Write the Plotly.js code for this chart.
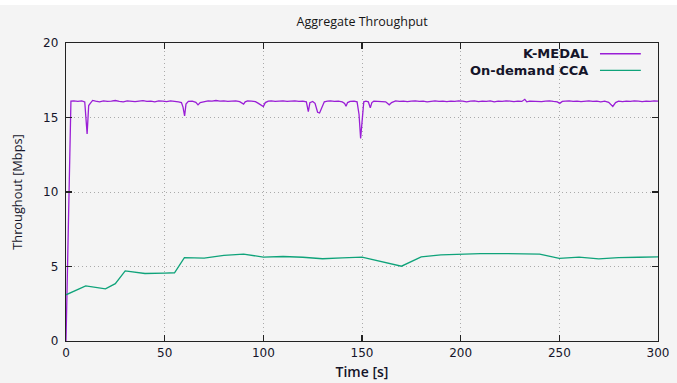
<!DOCTYPE html>
<html>
<head>
<meta charset="utf-8">
<script src="https://cdn.plot.ly/plotly-3.0.1.min.js"></script>
<style>
html,body{margin:0;padding:0;background:#ffffff;}
#chart{position:absolute;left:0;top:5px;width:677px;height:378px;}
</style>
</head>
<body>
<div id="chart"></div>
<script>
// K-MEDAL throughput (time in s, Mbps)
var kmedalTime = [0,2.5,4,6,8,9.5,10.7,11.5,12.3,13.5,15,17,19,21,23,25,27,29,31,33,35,37,39,41,43,45,47,49,51,53,55,57,58.5,59.3,60.1,60.8,62,64,65.8,66.9,68,70,72,74,76,78,80,82,84,86,88,89.2,90,90.8,92,94,96,97.5,99,100,101,102.5,104,106,108,110,112,114,116,118,120,121.8,122.8,123.6,125,126.2,127.5,128.5,129.6,130.9,132.5,134,136,138,140,141.2,141.9,142.7,144,146,147.5,148.5,149.3,150.1,150.9,152,153.2,154.2,155,156,158,160,162,163.8,165,167,169,171,173,175,177,179,181,183,185,187,189,191,193,195,197,199,201,203,205,207,209,211,213,215,217,219,221,223,225,227,229,231,232.5,233.5,235,237,239,241,243,245,247,249,250.2,251.5,253,255,257,259,261,263,265,267,269,271,273,275,277.1,278.5,280,282,284,286,288,290,292,294,296,298,300];
var kmedalVals = [0,16.1,16.12,16.08,16.12,16.05,13.9,15.8,15.95,16.15,16.1,16.05,16.12,16.08,16.1,16.14,16.08,16.05,16.12,16.1,16.06,16.1,16.13,16.08,16.1,16.05,16.12,16.1,16.06,16.12,16.1,16.05,16.0,15.7,15.1,15.9,16.08,16.1,16.02,15.85,16.0,16.08,16.12,16.1,16.14,16.1,16.12,16.08,16.1,16.12,16.06,15.98,15.9,16.05,16.12,16.1,16.06,15.95,15.82,15.74,16.0,16.1,16.12,16.08,16.1,16.12,16.08,16.1,16.12,16.08,16.1,16.05,15.4,16.0,16.08,15.95,15.35,15.3,15.6,16.05,16.1,16.12,16.08,16.1,16.05,15.95,15.75,16.0,16.08,16.1,16.05,15.2,13.6,15.0,16.05,16.1,16.05,15.65,16.0,16.1,16.08,16.1,16.05,15.85,16.0,16.12,16.08,16.1,16.06,16.1,16.12,16.08,16.1,16.05,16.1,16.12,16.08,16.1,16.06,16.1,16.08,16.12,16.1,16.05,16.1,16.12,16.06,16.1,16.08,16.12,16.05,16.1,16.08,16.12,16.1,16.06,16.1,16.08,16.22,16.05,16.1,16.08,16.1,16.06,16.1,16.12,16.08,16.05,15.95,16.08,16.1,16.12,16.08,16.1,16.06,16.1,16.12,16.08,16.1,16.05,16.1,16.02,15.74,16.0,16.1,16.06,16.1,16.08,16.12,16.1,16.06,16.1,16.08,16.12,16.1];

// On-demand CCA throughput
var ccaTime = [0,10,20,25,30,40,50,55,60,70,80,90,100,110,120,130,140,150,170,180,190,200,210,220,230,240,250,260,270,280,290,300];
var ccaVals = [3.1,3.7,3.5,3.85,4.7,4.53,4.56,4.58,5.6,5.56,5.74,5.83,5.63,5.67,5.62,5.52,5.58,5.63,5.02,5.65,5.78,5.83,5.87,5.87,5.85,5.83,5.55,5.63,5.51,5.6,5.62,5.65];

var seriesNames = ["K-MEDAL", "On-demand CCA"];
var seriesColors = ["#9a1ed6", "#0fa37a"];
var xTicks = [0,50,100,150,200,250,300];
var yTicks = [0,5,10,15,20];

var traces = [
  {x: kmedalTime, y: kmedalVals, type: "scatter", mode: "lines", name: seriesNames[0],
   line: {color: seriesColors[0], width: 1.3}, showlegend: false},
  {x: ccaTime, y: ccaVals, type: "scatter", mode: "lines", name: seriesNames[1],
   line: {color: seriesColors[1], width: 1.3}, showlegend: false}
];

var tickFont = {family: "DejaVu Sans", size: 12, color: "#15152a"};
var axisCommon = {
  showline: true, linecolor: "#222222", linewidth: 1.3, mirror: "allticks",
  ticks: "inside", ticklen: 6, tickwidth: 1.2, tickcolor: "#222222",
  showgrid: true, gridcolor: "#aaaaaa", griddash: "1px,3px", gridwidth: 1,
  zeroline: false, tickfont: tickFont
};

var legX0 = 0.902, legX1 = 0.971, legTextX = 0.885;
var legY = [0.964, 0.908];

var layout = {
  width: 677, height: 378,
  paper_bgcolor: "#f4f4f4", plot_bgcolor: "#f4f4f4",
  margin: {l: 65.5, r: 19, t: 37.5, b: 42},
  title: {text: "Aggregate Throughput", font: {family: "Open Sans", size: 12.5, color: "#151515"},
          x: 0.535, xref: "container", xanchor: "center", y: 0.955, yref: "container", yanchor: "middle"},
  xaxis: Object.assign({}, axisCommon, {
    range: [0, 300], tickvals: xTicks, ticktext: xTicks.map(String),
    title: {text: "Time [s]", font: {family: "Open Sans", size: 14, color: "#15152a", weight: 600}, standoff: 8}
  }),
  yaxis: Object.assign({}, axisCommon, {
    range: [0, 20], tickvals: yTicks, ticktext: yTicks.map(String), ticklabelstandoff: 4,
    title: {text: "Throughout [Mbps]", font: {family: "Open Sans", size: 12.8, color: "#15152a"}, standoff: 17}
  }),
  shapes: [
    {type: "line", xref: "paper", yref: "paper", x0: legX0, x1: legX1, y0: legY[0], y1: legY[0],
     line: {color: seriesColors[0], width: 1.3}},
    {type: "line", xref: "paper", yref: "paper", x0: legX0, x1: legX1, y0: legY[1], y1: legY[1],
     line: {color: seriesColors[1], width: 1.3}}
  ],
  annotations: [
    {text: seriesNames[0], xref: "paper", yref: "paper", x: legTextX, y: legY[0], xanchor: "right", yanchor: "middle",
     showarrow: false, font: {family: "DejaVu Sans", size: 13, color: "#15152a", weight: "bold"}},
    {text: seriesNames[1], xref: "paper", yref: "paper", x: legTextX, y: legY[1], xanchor: "right", yanchor: "middle",
     showarrow: false, font: {family: "DejaVu Sans", size: 13, color: "#15152a", weight: "bold"}}
  ]
};

Plotly.newPlot("chart", traces, layout, {displayModeBar: false, staticPlot: true});
</script>
</body>
</html>
